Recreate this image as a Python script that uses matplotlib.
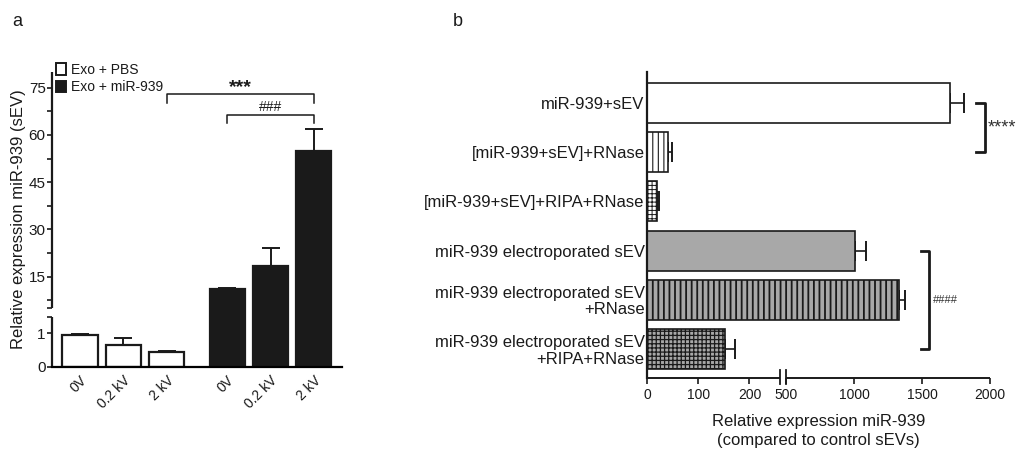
import numpy as np
import matplotlib
matplotlib.use("Agg")
import matplotlib.pyplot as plt
import matplotlib.transforms as mtransforms
from matplotlib.patches import Patch

plt.rcParams['font.family'] = ['Liberation Sans', 'DejaVu Sans']
plt.rcParams['hatch.linewidth'] = 1.0
ink = '#1a1a1a'

# ---- panel a data ----
a_ticklabels = ["0V", "0.2 kV", "2 kV", "0V", "0.2 kV", "2 kV"]
a_pbs = [0.96, 0.65, 0.45]
a_pbs_err = [0.03, 0.22, 0.03]
a_mir = [11.1, 18.2, 55.0]
a_mir_err = [0.25, 5.9, 6.9]
a_legend = ["Exo + PBS", "Exo + miR-939"]

# ---- panel b data ----
b_labels = ["miR-939+sEV",
            "[miR-939+sEV]+RNase",
            "[miR-939+sEV]+RIPA+RNase",
            "miR-939 electroporated sEV",
            "miR-939 electroporated sEV\n+RNase",
            "miR-939 electroporated sEV\n+RIPA+RNase"]
b_values = [1705, 40, 19, 1008, 1330, 152]
b_err = [105, 8, 4, 80, 45, 20]
b_xticks = [0, 100, 200, 500, 1000, 1500, 2000]


def piecewise(xs, ys):
    # linear between break points, linear extrapolation outside
    xs = np.asarray(xs, float)
    ys = np.asarray(ys, float)

    def f(v):
        v = np.asarray(v, float)
        out = np.interp(v, xs, ys)
        lo_s = (ys[1] - ys[0]) / (xs[1] - xs[0])
        hi_s = (ys[-1] - ys[-2]) / (xs[-1] - xs[-2])
        out = np.where(v < xs[0], ys[0] + (v - xs[0]) * lo_s, out)
        out = np.where(v > xs[-1], ys[-1] + (v - xs[-1]) * hi_s, out)
        return out
    return f


W, H = 1020, 454
fig = plt.figure(figsize=(W / 100, H / 100), dpi=100)

# ================= panel a =================
axa = fig.add_axes([52 / W, 1 - 366.7 / H, 290 / W, (366.7 - 72) / H])
ya_data = [0, 1.5, 5, 80]
ya_px = [0, 50.1, 58.7, 294.7]
axa.set_yscale('function', functions=(piecewise(ya_data, ya_px), piecewise(ya_px, ya_data)))
axa.set_ylim(0, 80)
axa.set_xlim(-0.646, 6.05)

xa_pbs = np.arange(3)
xa_mir = np.arange(3) + 3.4
bw = 0.81
axa.bar(xa_pbs, a_pbs, bw, color='white', edgecolor=ink, linewidth=1.6, zorder=2)
axa.bar(xa_mir, a_mir, bw, color=ink, edgecolor=ink, linewidth=1.6, zorder=2)
axa.errorbar(xa_pbs, a_pbs, yerr=[np.zeros(3), a_pbs_err], fmt='none', ecolor=ink,
             elinewidth=1.4, capsize=6.5, capthick=1.4, zorder=1)
axa.errorbar(xa_mir, a_mir, yerr=[np.zeros(3), a_mir_err], fmt='none', ecolor=ink,
             elinewidth=1.4, capsize=6.5, capthick=1.4, zorder=1)

axa.spines['top'].set_visible(False)
axa.spines['right'].set_visible(False)
axa.spines['left'].set_visible(False)
axa.spines['bottom'].set_linewidth(1.6)
blend = mtransforms.blended_transform_factory(axa.transAxes, axa.transData)
for lo, hi in [(0, 1.5), (5, 80)]:
    axa.plot([0, 0], [lo, hi], color=ink, lw=1.6, transform=blend, clip_on=False, solid_capstyle='butt')

axa.set_yticks([0, 1, 15, 30, 45, 60, 75])
axa.set_yticks([1.5, 5, 7.5, 22.5, 37.5, 52.5, 67.5], minor=True)
axa.tick_params(axis='y', which='both', length=3.5, width=1.2, color=ink, labelsize=11,
                labelcolor=ink, pad=1)
axa.set_xticks(np.concatenate([xa_pbs, xa_mir]))
axa.set_xticklabels(a_ticklabels, rotation=45, ha='right', rotation_mode='anchor',
                    fontsize=10, color=ink)
axa.tick_params(axis='x', length=0, pad=5)
axa.set_ylabel("Relative expression miR-939 (sEV)", fontsize=12, color=ink, labelpad=2)

# significance brackets
axa.plot([2, 2, 5.4, 5.4], [70.2, 72.9, 72.9, 70.2], color=ink, lw=1.1, clip_on=False)
axa.text(3.7, 75.0, "***", ha='center', va='center', fontsize=14, fontweight='bold', color=ink)
axa.plot([3.4, 3.4, 5.4, 5.4], [63.7, 66.3, 66.3, 63.7], color=ink, lw=1.1, clip_on=False)
axa.text(4.4, 69.0, "###", ha='center', va='center', fontsize=10, color=ink)

handles = [Patch(facecolor='white', edgecolor=ink, linewidth=1.4),
           Patch(facecolor=ink, edgecolor=ink, linewidth=1.4)]
axa.legend(handles, a_legend, loc='upper left', bbox_to_anchor=(56 / W, 1 - 63 / H),
           bbox_transform=fig.transFigure, frameon=False, borderpad=0, borderaxespad=0,
           handlelength=0.7, handleheight=0.9, handletextpad=0.4, labelspacing=0.25,
           fontsize=10, labelcolor=ink)

fig.text(12 / W, 1 - 22 / H, "a", fontsize=13, ha='left', va='center', color=ink)

# ================= panel b =================
axb = fig.add_axes([647.5 / W, 1 - 378 / H, (990 - 647.5) / W, (378 - 72) / H])
xb_data = [0, 260, 500, 2000]
xb_px = [0, 132.6, 138.5, 342.5]
axb.set_xscale('function', functions=(piecewise(xb_data, xb_px), piecewise(xb_px, xb_data)))
axb.set_xlim(0, 2000)
yb = np.arange(len(b_labels))
axb.set_ylim(5.59, -0.63)

gray = '#a8a8a8'
faces = ['white', 'white', 'white', gray, gray, gray]
hatches = [None, '|||', '++++', None, '|||', '++++']
hatch_lw = [1.0, 0.8, 0.7, 1.0, 1.3, 0.9]
for i in range(len(b_labels)):
    with plt.rc_context({'hatch.linewidth': hatch_lw[i]}):
        bars = axb.barh(yb[i], b_values[i], 0.81, color=faces[i], edgecolor=ink,
                        linewidth=1.2, hatch=hatches[i], zorder=2)
    for bar in bars:
        try:
            bar.set_hatch_linewidth(hatch_lw[i])
        except AttributeError:
            pass
axb.errorbar(b_values, yb, xerr=[np.zeros(len(b_values)), b_err], fmt='none', ecolor=ink,
             elinewidth=1.2, capsize=7, capthick=1.4, zorder=1)

axb.spines['top'].set_visible(False)
axb.spines['right'].set_visible(False)
axb.spines['bottom'].set_visible(False)
axb.spines['left'].set_linewidth(1.6)
axb.spines['left'].set_color(ink)
blendb = mtransforms.blended_transform_factory(axb.transData, axb.transAxes)
for lo, hi in [(0, 260), (500, 2000)]:
    axb.plot([lo, hi], [0, 0], color=ink, lw=1.4, transform=blendb, clip_on=False,
             solid_capstyle='butt')
for xbrk in [260, 500]:
    axb.plot([xbrk, xbrk], [-0.02, 0.025], color=ink, lw=1.3, transform=blendb, clip_on=False)

axb.set_xticks(b_xticks)
axb.set_xticklabels([str(v) for v in b_xticks])
axb.xaxis.set_minor_locator(matplotlib.ticker.NullLocator())
axb.tick_params(axis='x', length=4, width=1.2, color=ink, labelsize=10, labelcolor=ink, pad=3)
axb.set_yticks(yb)
axb.set_yticklabels(b_labels, fontsize=12, color=ink, ha='right', linespacing=1.1)
axb.tick_params(axis='y', length=0, pad=2)
axb.set_xlabel("Relative expression miR-939\n(compared to control sEVs)", fontsize=12,
               color=ink, labelpad=9, linespacing=1.3)

# significance brackets
axb.plot([1897, 1960, 1960, 1897], [0, 0, 1, 1], color=ink, lw=2.0, clip_on=False)
axb.text(1985, 0.5, "****", ha='left', va='center', fontsize=13, color='#333333', clip_on=False)
axb.plot([1493, 1551, 1551, 1493], [3, 3, 5, 5], color=ink, lw=2.0, clip_on=False)
axb.text(1578, 4, "####", ha='left', va='center', fontsize=8, color='#333333', clip_on=False)

fig.text(453 / W, 1 - 22 / H, "b", fontsize=13, ha='left', va='center', color=ink)

fig.savefig("out.png", dpi=100)
